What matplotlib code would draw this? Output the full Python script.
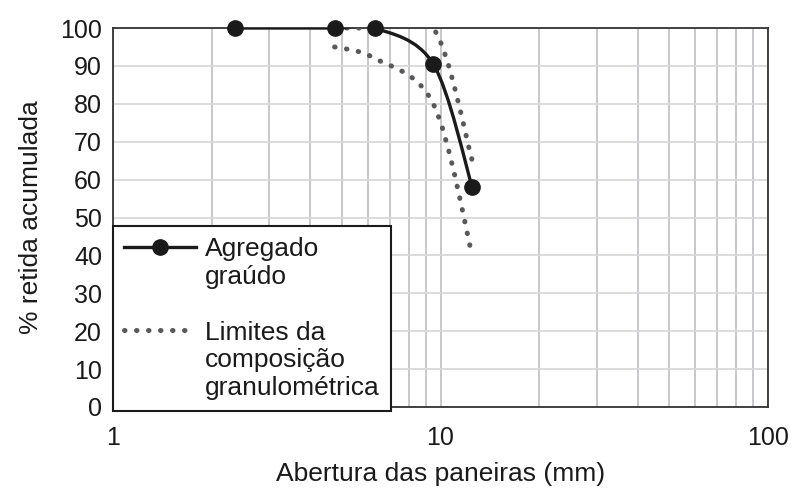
import numpy as np
import matplotlib.pyplot as plt
from matplotlib.path import Path
from matplotlib.patches import PathPatch
from matplotlib.lines import Line2D

# sieve openings (mm) and cumulative % retained
sieves = [2.36, 4.75, 6.3, 9.5, 12.5]
retained = [100, 100, 100, 90.5, 58]

lim_sieves = [4.75, 6.3, 9.5, 12.5]
lim_lower = [95, 92, 80, 40]
lim_upper = [100, 100, 100, 65]

plt.rcParams['font.family'] = ['Liberation Sans', 'DejaVu Sans']
TICK_FS = 18
LABEL_FS = 19
INK = '#1a1a1a'
DOTS = (0, (0.1, 2.3))


def smooth_path(xs, ys):
    # Excel-like smoothed line: Catmull-Rom to Bezier in (log x, y) space
    lx = np.log10(xs)
    pts = np.column_stack([lx, ys])
    n = len(pts)
    verts = [pts[0]]
    codes = [Path.MOVETO]
    for i in range(n - 1):
        p0 = pts[i - 1] if i > 0 else pts[i]
        p1 = pts[i]
        p2 = pts[i + 1]
        p3 = pts[i + 2] if i + 2 < n else pts[i + 1]
        c1 = p1 + (p2 - p0) / 6
        c2 = p2 - (p3 - p1) / 6
        verts += [c1, c2, p2]
        codes += [Path.CURVE4] * 3
    verts = np.array(verts)
    verts[:, 0] = 10 ** verts[:, 0]
    return Path(verts, codes)


fig = plt.figure(figsize=(7.92, 4.91), dpi=100)
ax = fig.add_axes([113 / 792, 1 - 407 / 491, 655 / 792, 379 / 491])
ax.set_xscale('log')
ax.set_xlim(1, 100)
ax.set_ylim(0, 100)

ax.grid(True, which='major', axis='y', color='#d9d9d9', lw=1.3)
ax.grid(True, which='both', axis='x', color='#c4c4c8', lw=1.3)
ax.set_axisbelow(True)

dot_style = dict(fill=False, edgecolor='#595959', lw=3.6,
                 linestyle=DOTS, capstyle='round', zorder=3)
ax.add_patch(PathPatch(smooth_path(lim_sieves, lim_lower), **dot_style))
ax.add_patch(PathPatch(smooth_path(lim_sieves, lim_upper), **dot_style))

ax.add_patch(PathPatch(smooth_path(sieves, retained), fill=False,
                       edgecolor=INK, lw=2.4, zorder=4))
ax.plot(sieves, retained, ls='none', marker='o', ms=11, color=INK,
        zorder=5, clip_on=False)

ax.set_yticks(range(0, 101, 10))
ax.set_xticks([1, 10, 100])
ax.set_xticklabels(['1', '10', '100'])
ax.tick_params(which='both', length=0, labelsize=TICK_FS, colors=INK)
ax.tick_params(axis='x', pad=14)
ax.tick_params(axis='y', pad=8)
ax.xaxis.set_minor_formatter(plt.NullFormatter())

for s in ax.spines.values():
    s.set_color('#333333')
    s.set_linewidth(1.3)

ax.set_xlabel('Abertura das paneiras (mm)', fontsize=LABEL_FS, color=INK, labelpad=8)
ax.set_ylabel('% retida acumulada', fontsize=LABEL_FS, color=INK, labelpad=12)

# Excel-style legend: handle beside the first line of each label
blank = Line2D([], [], color='none')
handles = [
    Line2D([], [], color=INK, lw=2.4, marker='o', ms=11),
    blank, blank,
    Line2D([], [], color='#595959', lw=3.6, linestyle=DOTS,
           dash_capstyle='round'),
    blank, blank,
]
labels = ['Agregado', 'graúdo', ' ', 'Limites da', 'composição', 'granulométrica']
leg = fig.legend(handles, labels, loc='lower left',
                 bbox_to_anchor=(113 / 792, 1 - 411 / 491),
                 fontsize=LABEL_FS, frameon=True, fancybox=False, framealpha=1,
                 edgecolor=INK, handlelength=2.73, handletextpad=0.33,
                 labelspacing=0.14, borderpad=0.42, borderaxespad=0)
leg.get_frame().set_linewidth(1.5)
for t in leg.get_texts():
    t.set_color(INK)

fig.savefig('out.png', dpi=100)
